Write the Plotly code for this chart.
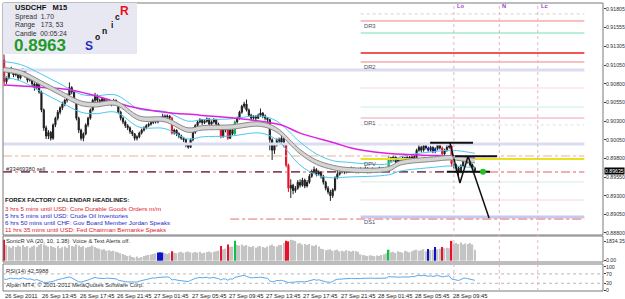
import plotly.graph_objects as go

# ---------------- DATA ----------------
bars = list(range(203))
opens = [0.9112,0.9083,0.9088,0.9096,0.9099,0.9092,0.9095,0.9088,0.9093,0.9099,
0.9091,0.9085,0.9088,0.9080,0.9075,0.9080,0.9069,0.9045,0.9021,0.9010,
0.9015,0.9007,0.9025,0.9034,0.9042,0.9048,0.9053,0.9058,0.9065,0.9075,
0.9069,0.9058,0.9034,0.9018,0.9007,0.9013,0.9025,0.9034,0.9045,0.9058,
0.9064,0.9058,0.9056,0.9060,0.9054,0.9058,0.9057,0.9053,0.9058,0.9054,
0.9042,0.9034,0.9029,0.9024,0.9021,0.9016,0.9013,0.9007,0.9009,0.9014,
0.9018,0.9021,0.9024,0.9026,0.9028,0.9030,0.9029,0.9032,0.9033,0.9037,
0.9036,0.9037,0.9034,0.9014,0.9018,0.9013,0.9010,0.9007,0.9005,0.8998,
0.8995,0.9005,0.9015,0.9024,0.9029,0.9032,0.9028,0.9030,0.9033,0.9026,
0.9029,0.9032,0.9026,0.9021,0.9009,0.9021,0.9018,0.9007,0.9018,0.9013,
0.9029,0.9034,0.9042,0.9050,0.9053,0.9045,0.9038,0.9034,0.9036,0.9034,
0.9038,0.9041,0.9037,0.9034,0.9032,0.9005,0.8991,0.8998,0.9005,0.9002,
0.9007,0.8998,0.8971,0.8940,0.8944,0.8937,0.8940,0.8948,0.8944,0.8951,
0.8943,0.8948,0.8956,0.8962,0.8965,0.8959,0.8962,0.8956,0.8948,0.8940,
0.8935,0.8930,0.8938,0.8954,0.8959,0.8962,0.8965,0.8962,0.8966,0.8963,
0.8967,0.8965,0.8962,0.8966,0.8963,0.8965,0.8967,0.8962,0.8965,0.8966,
0.8963,0.8965,0.8967,0.8963,0.8965,0.8966,0.8981,0.8978,0.8982,0.8975,
0.8979,0.8977,0.8981,0.8978,0.8982,0.8979,0.8983,0.8981,0.8991,0.8995,
0.8991,0.8997,0.8994,0.8991,0.8995,0.8989,0.8993,0.8998,0.8994,0.8986,
0.8991,0.8995,0.8997,0.8973,0.8971,0.8967,0.8962,0.8970,0.8978,0.8981,
0.8975,0.8971,0.8967]
highs = [0.9119,0.9090,0.9099,0.9103,0.9101,0.9097,0.9096,0.9096,0.9101,0.9100,
0.9093,0.9090,0.9089,0.9082,0.9083,0.9081,0.9071,0.9047,0.9024,0.9018,
0.9017,0.9027,0.9036,0.9045,0.9050,0.9056,0.9060,0.9067,0.9082,0.9077,
0.9071,0.9059,0.9036,0.9020,0.9015,0.9027,0.9036,0.9047,0.9060,0.9068,
0.9066,0.9060,0.9062,0.9061,0.9060,0.9060,0.9058,0.9060,0.9059,0.9055,
0.9044,0.9036,0.9031,0.9026,0.9023,0.9018,0.9014,0.9011,0.9016,0.9020,
0.9023,0.9026,0.9028,0.9030,0.9032,0.9032,0.9034,0.9036,0.9040,0.9039,
0.9039,0.9038,0.9036,0.9020,0.9019,0.9015,0.9012,0.9009,0.9006,0.9000,
0.9007,0.9017,0.9026,0.9031,0.9034,0.9033,0.9032,0.9035,0.9034,0.9031,
0.9034,0.9033,0.9028,0.9023,0.9023,0.9023,0.9020,0.9020,0.9021,0.9031,
0.9036,0.9044,0.9052,0.9056,0.9059,0.9047,0.9040,0.9038,0.9038,0.9040,
0.9047,0.9042,0.9039,0.9035,0.9033,0.9007,0.9000,0.9007,0.9008,0.9013,
0.9009,0.8999,0.8973,0.8952,0.8946,0.8943,0.8951,0.8952,0.8954,0.8953,
0.8951,0.8959,0.8965,0.8969,0.8967,0.8964,0.8963,0.8958,0.8950,0.8943,
0.8938,0.8940,0.8956,0.8965,0.8964,0.8967,0.8966,0.8968,0.8967,0.8969,
0.8968,0.8966,0.8967,0.8968,0.8966,0.8969,0.8968,0.8966,0.8968,0.8967,
0.8966,0.8969,0.8968,0.8966,0.8967,0.8983,0.8982,0.8984,0.8983,0.8981,
0.8981,0.8983,0.8982,0.8984,0.8983,0.8985,0.8984,0.8993,0.8998,0.8997,
0.8999,0.8999,0.8996,0.8997,0.8996,0.8995,0.9002,0.9000,0.8996,0.8993,
0.8998,0.9001,0.8999,0.8976,0.8973,0.8969,0.8972,0.8980,0.8984,0.8982,
0.8977,0.8973,0.8969]
lows = [0.9077,0.9080,0.9086,0.9094,0.9089,0.9090,0.9085,0.9086,0.9091,0.9088,
0.9082,0.9083,0.9077,0.9071,0.9073,0.9067,0.9042,0.9017,0.9006,0.9006,
0.9004,0.9005,0.9022,0.9031,0.9039,0.9045,0.9050,0.9055,0.9063,0.9066,
0.9055,0.9031,0.9014,0.9004,0.9003,0.9011,0.9022,0.9032,0.9043,0.9055,
0.9055,0.9052,0.9054,0.9051,0.9052,0.9054,0.9050,0.9051,0.9051,0.9040,
0.9031,0.9026,0.9021,0.9018,0.9013,0.9010,0.9004,0.9004,0.9007,0.9012,
0.9016,0.9019,0.9022,0.9024,0.9026,0.9027,0.9027,0.9030,0.9031,0.9033,
0.9033,0.9031,0.9012,0.9012,0.9010,0.9007,0.9005,0.9002,0.8995,0.8993,
0.8994,0.9003,0.9013,0.9022,0.9027,0.9025,0.9026,0.9028,0.9024,0.9024,
0.9027,0.9024,0.9019,0.9007,0.9008,0.9015,0.9005,0.9006,0.9011,0.9011,
0.9027,0.9032,0.9040,0.9047,0.9043,0.9036,0.9031,0.9032,0.9031,0.9033,
0.9036,0.9034,0.9031,0.9029,0.8991,0.8978,0.8986,0.8996,0.8999,0.9000,
0.8995,0.8968,0.8935,0.8927,0.8932,0.8934,0.8938,0.8941,0.8942,0.8940,
0.8941,0.8946,0.8954,0.8960,0.8956,0.8957,0.8953,0.8945,0.8937,0.8932,
0.8923,0.8927,0.8936,0.8952,0.8957,0.8960,0.8959,0.8960,0.8961,0.8962,
0.8962,0.8960,0.8960,0.8961,0.8961,0.8963,0.8960,0.8960,0.8963,0.8961,
0.8961,0.8963,0.8961,0.8961,0.8962,0.8961,0.8975,0.8976,0.8973,0.8973,
0.8974,0.8975,0.8976,0.8976,0.8977,0.8977,0.8979,0.8980,0.8989,0.8988,
0.8989,0.8992,0.8989,0.8989,0.8987,0.8987,0.8991,0.8992,0.8984,0.8984,
0.8989,0.8993,0.8969,0.8966,0.8963,0.8955,0.8960,0.8968,0.8976,0.8973,
0.8969,0.8965,0.8962]
closes = [0.9083,0.9088,0.9096,0.9099,0.9092,0.9095,0.9088,0.9093,0.9099,0.9091,
0.9085,0.9088,0.9080,0.9075,0.9080,0.9069,0.9045,0.9021,0.9010,0.9015,
0.9007,0.9025,0.9034,0.9042,0.9048,0.9053,0.9058,0.9065,0.9075,0.9069,
0.9058,0.9034,0.9018,0.9007,0.9013,0.9025,0.9034,0.9045,0.9058,0.9064,
0.9058,0.9056,0.9060,0.9054,0.9058,0.9057,0.9053,0.9058,0.9054,0.9042,
0.9034,0.9029,0.9024,0.9021,0.9016,0.9013,0.9007,0.9009,0.9014,0.9018,
0.9021,0.9024,0.9026,0.9028,0.9030,0.9029,0.9032,0.9033,0.9037,0.9036,
0.9037,0.9034,0.9014,0.9018,0.9013,0.9010,0.9007,0.9005,0.8998,0.8995,
0.9005,0.9015,0.9024,0.9029,0.9032,0.9028,0.9030,0.9033,0.9026,0.9029,
0.9032,0.9026,0.9021,0.9009,0.9021,0.9018,0.9007,0.9018,0.9013,0.9029,
0.9034,0.9042,0.9050,0.9053,0.9045,0.9038,0.9034,0.9036,0.9034,0.9038,
0.9041,0.9037,0.9034,0.9032,0.9005,0.8991,0.8998,0.9005,0.9002,0.9007,
0.8998,0.8971,0.8940,0.8944,0.8937,0.8940,0.8948,0.8944,0.8951,0.8943,
0.8948,0.8956,0.8962,0.8965,0.8959,0.8962,0.8956,0.8948,0.8940,0.8935,
0.8930,0.8938,0.8954,0.8959,0.8962,0.8965,0.8962,0.8966,0.8963,0.8967,
0.8965,0.8962,0.8966,0.8963,0.8965,0.8967,0.8962,0.8965,0.8966,0.8963,
0.8965,0.8967,0.8963,0.8965,0.8966,0.8981,0.8978,0.8982,0.8975,0.8979,
0.8977,0.8981,0.8978,0.8982,0.8979,0.8983,0.8981,0.8991,0.8995,0.8991,
0.8997,0.8994,0.8991,0.8995,0.8989,0.8993,0.8998,0.8994,0.8986,0.8991,
0.8995,0.8997,0.8973,0.8971,0.8967,0.8962,0.8970,0.8978,0.8981,0.8975,
0.8971,0.8967,0.89635]
volumes = [2000,1500,1350,1250,1400,1300,1450,1350,1500,1300,
1400,1250,1350,1450,1300,1500,1600,1550,1450,1350,
1400,1300,1250,1400,1200,1300,1350,1250,1500,1400,
1350,1550,1450,1300,1400,1250,1300,1350,1450,1300,
1200,1150,1050,1100,950,1000,900,950,850,800,
700,650,550,450,500,350,300,400,250,350,
450,500,550,600,650,700,780,800,780,700,
650,720,900,780,720,800,850,760,820,870,
800,750,820,780,850,700,760,820,870,800,
850,900,950,1400,1100,1150,1560,1300,1350,1900,
1500,1450,1560,1400,1500,1350,1300,1400,1250,1350,
1400,1300,1250,1350,1450,1550,1400,1350,1500,1500,
1700,1900,1850,2000,1950,1900,1650,1700,1550,1600,
1500,1600,1450,1400,1500,1350,1150,1100,1000,1050,
1100,950,1000,1050,900,950,880,1000,920,870,
950,900,850,600,550,500,450,520,480,430,
500,450,550,610,700,1050,800,850,750,900,
820,780,950,880,800,900,1000,1050,950,1000,
1100,900,1130,1000,1050,1300,1100,1150,1300,1200,
1250,1200,1900,1650,1700,1600,1750,1550,1650,1600,
1700,1550,1050]
rsi = [48,46,50,52,49,51,48,51,53,50,
47,49,45,43,46,42,37,34,33,35,
34,38,42,46,48,50,52,54,57,53,
48,40,36,35,37,40,44,48,53,55,
52,51,53,50,52,51,49,51,49,43,
40,38,37,36,35,34,33,35,39,42,
45,47,49,51,53,52,55,56,58,57,
57,55,44,46,43,42,41,40,38,37,
42,47,51,53,55,53,54,56,52,53,
55,52,50,44,49,48,43,49,47,55,
57,60,63,64,59,55,53,54,53,55,
56,54,52,51,40,36,38,42,41,43,
40,36,33,34,33,35,37,36,38,36,
38,41,44,46,43,45,42,38,36,35,
34,37,44,47,48,50,49,51,50,51,
50,49,51,50,51,52,50,51,52,51,
51,52,51,52,52,58,57,58,55,57,
56,57,56,58,57,59,58,62,64,62,
64,62,60,62,59,61,63,61,57,59,
61,62,48,47,45,42,46,51,52,49,
46,44,42.5988]
red_bars = [0, 72, 93, 96, 121, 122, 188, 192]
blue_bars = [66, 67, 68, 182, 185]
green_bars = [99, 165]

ma_bars = [0,7,16,24,33,39,48,58,69,79,85,97,110,117,127,134,141,147,165,170,184,192,200,202]
band_upper = [0.9102,0.9098,0.9084,0.9071,0.9057,0.9055,0.9057,0.9037,0.9035,0.9021,0.9024,0.9025,0.9029,0.9021,0.8992,0.8978,0.8971,0.8968,0.8969,0.8977,0.8982,0.8984,0.8981,0.8980]
band_lower = [0.9096,0.9092,0.9078,0.9065,0.9051,0.9049,0.9051,0.9031,0.9029,0.9015,0.9018,0.9019,0.9023,0.9015,0.8986,0.8972,0.8965,0.8962,0.8963,0.8971,0.8976,0.8978,0.8975,0.8974]
cyan_upper = [0.9110,0.9106,0.9093,0.9080,0.9066,0.9064,0.9065,0.9046,0.9043,0.9030,0.9032,0.9033,0.9037,0.9030,0.9002,0.8986,0.8977,0.8975,0.8973,0.8982,0.8989,0.8991,0.8988,0.8987]
cyan_lower = [0.9089,0.9084,0.9069,0.9056,0.9042,0.9040,0.9042,0.9022,0.9020,0.9006,0.9009,0.9010,0.9014,0.9005,0.8971,0.8958,0.8954,0.8955,0.8958,0.8963,0.8968,0.8970,0.8968,0.8967]
slow_bars = [0,13,20,28,41,55,69,84,106,119,127,142,149,163,178,192,202]
slow_ma = [0.90785,0.9076,0.90745,0.9072,0.90624,0.9049,0.9042,0.9038,0.90315,0.90248,0.9014,0.90007,0.8994,0.89873,0.89846,0.89833,0.89819]

level_prices = [0.91738,0.91644,0.91483,0.91215,0.91094,0.90987,0.90745,0.90490,0.90342,0.90249,
                0.89994,0.89833,0.89792,0.89618,0.89484,0.89242,0.89014,0.88987]
level_start = [153,153,153,153,153,-0.5,153,153,153,153,-0.5,-0.5,153,-0.5,153,153,153,97]
level_end = 249
level_names = {1: "DR3", 4: "DR2", 8: "DR1", 12: "DPV", 16: "DS1"}
order_price = 0.8962
order_span = [-0.5, 208.5]

hl_start = [182.8, 193.5, 190]
hl_end = [201.2, 211.5, 208.5]
hl_price = [0.9001, 0.8983, 0.8962]
zig_bars = [191.3, 195.6, 199.1, 208.1]
zig_prices = [0.9001, 0.8947, 0.8983, 0.8900]
target_bar = [205.5]
target_price = [0.8962]

session_bars = [193, 212.5, 229]
session_names = ["Lo", "N", "Lc"]

time_bars = [0,16,32,48,64,80,96,112,128,144,160,176,192]
time_labels = ["26 Sep 2011","26 Sep 13:45","26 Sep 17:45","26 Sep 21:45","27 Sep 01:45",
               "27 Sep 05:45","27 Sep 09:45","27 Sep 13:45","27 Sep 17:45","27 Sep 21:45",
               "28 Sep 01:45","28 Sep 05:45","28 Sep 09:45"]
price_ticks = [0.91805,0.91555,0.91305,0.91050,0.90800,0.90550,0.90300,0.90050,0.89800,0.89550,0.89300,0.89050,0.88800]
current_price = 0.89635
news = [("3 hrs 5 mins until USD: Core Durable Goods Orders m/m", "#E0202A"),
        ("5 hrs 5 mins until USD: Crude Oil Inventories", "#2828C8"),
        ("6 hrs 50 mins until CHF: Gov Board Member Jordan Speaks", "#2828C8"),
        ("11 hrs 35 mins until USD: Fed Chairman Bernanke Speaks", "#E0202A")]

# ---------------- LAYOUT HELPERS ----------------
FONT = "Liberation Sans"
W, H = 625, 299
ML, MR, MT, MB = 3, 22, 3, 8
PW, PH = W - ML - MR, H - MT - MB
def pxx(px): return (px - ML) / PW
def pxy(py): return (H - MB - py) / PH

fig = go.Figure()

level_styles = [("#D0D0D0",1,"dot"),("#F08080",1,"solid"),("#B8F0D8",2,"solid"),("#F05858",2,"solid"),
                ("#F08080",1,"solid"),("#DCDCF2",3,"solid"),("#F8D8D8",1,"solid"),("#C8F0E0",1,"solid"),
                ("#F0A0B0",1,"solid"),("#E0E0E0",1,"dot"),("#DCDCF2",3,"solid"),("#F0B090",1,"dashdot"),
                ("#E8E020",2,"solid"),("#E06060",1,"dashdot"),("#D0F0E0",1,"solid"),("#F8D8D8",1,"solid"),
                ("#C8C8F0",3,"solid"),("#E07070",1,"dashdot")]
for i, p in enumerate(level_prices):
    c, w, d = level_styles[i]
    fig.add_trace(go.Scatter(x=[level_start[i], level_end], y=[p, p], mode="lines",
                             line=dict(color=c, width=w, dash=d), hoverinfo="skip", showlegend=False))
fig.add_trace(go.Scatter(x=order_span, y=[order_price, order_price], mode="lines",
                         line=dict(color="#3A1040", width=1, dash="dash"), hoverinfo="skip", showlegend=False))

# moving averages
fig.add_trace(go.Scatter(x=ma_bars, y=cyan_upper, mode="lines", line=dict(color="#48C8F0", width=1, shape="spline"),
                         hoverinfo="skip", showlegend=False))
fig.add_trace(go.Scatter(x=ma_bars, y=cyan_lower, mode="lines", line=dict(color="#48C8F0", width=1, shape="spline"),
                         hoverinfo="skip", showlegend=False))
fig.add_trace(go.Scatter(x=slow_bars, y=slow_ma, mode="lines", line=dict(color="#E020E0", width=1.5, shape="spline"),
                         hoverinfo="skip", showlegend=False))
fig.add_trace(go.Scatter(x=ma_bars, y=band_upper, mode="lines", line=dict(color="#8A8A8A", width=1, shape="spline"),
                         hoverinfo="skip", showlegend=False))
fig.add_trace(go.Scatter(x=ma_bars, y=band_lower, mode="lines", line=dict(color="#8A8A8A", width=1, shape="spline"),
                         fill="tonexty", fillcolor="#D4D4D4", hoverinfo="skip", showlegend=False))

# candles
colored = set(red_bars) | set(blue_bars) | set(green_bars)
groups = [([b for b in bars if b not in colored], "#1E1E1E"), (red_bars, "#E8102A"),
          (blue_bars, "#1010C8"), (green_bars, "#10B040")]
for idx, col in groups:
    fig.add_trace(go.Candlestick(
        x=idx, open=[opens[i] for i in idx], high=[highs[i] for i in idx],
        low=[lows[i] for i in idx], close=[closes[i] for i in idx],
        increasing=dict(line=dict(color=col, width=1), fillcolor=col),
        decreasing=dict(line=dict(color=col, width=1), fillcolor=col),
        whiskerwidth=0, hoverinfo="skip", showlegend=False))

# pattern lines
for i in range(len(hl_price)):
    fig.add_trace(go.Scatter(x=[hl_start[i], hl_end[i]], y=[hl_price[i], hl_price[i]], mode="lines",
                             line=dict(color="#101010", width=2), hoverinfo="skip", showlegend=False))
fig.add_trace(go.Scatter(x=zig_bars, y=zig_prices, mode="lines", line=dict(color="#101010", width=1.5),
                         hoverinfo="skip", showlegend=False))
fig.add_trace(go.Scatter(x=target_bar, y=target_price, mode="markers",
                         marker=dict(color="#20C020", size=6), hoverinfo="skip", showlegend=False))

# volume
vcol = []
for b in bars:
    if b in red_bars: vcol.append("#E8102A")
    elif b in blue_bars: vcol.append("#1010C8")
    elif b in green_bars: vcol.append("#10C040")
    else: vcol.append("#C4C4C4")
fig.add_trace(go.Bar(x=bars, y=volumes, marker=dict(color=vcol, line=dict(width=0)), width=0.62,
                     yaxis="y2", hoverinfo="skip", showlegend=False))

# RSI
fig.add_trace(go.Scatter(x=bars, y=rsi, mode="lines", line=dict(color="#5AA8EC", width=1),
                         yaxis="y3", hoverinfo="skip", showlegend=False))

tickfont = dict(family=FONT, size=5.2, color="#303030")
axis_common = dict(side="right", anchor="x", tickfont=tickfont, ticks="outside", ticklen=2,
                   tickcolor="#404040", showgrid=False, zeroline=False, ticklabelstandoff=-1)
fig.update_layout(
    width=W, height=H, margin=dict(l=ML, r=MR, t=MT, b=MB, autoexpand=False),
    paper_bgcolor="white", plot_bgcolor="white", hovermode=False, showlegend=False,
    xaxis=dict(range=[-0.5, 257], showticklabels=False, showgrid=False, zeroline=False,
               anchor="y3", rangeslider=dict(visible=False), showline=False),
    yaxis=dict(domain=[pxy(235), 1], range=[0.88773, 0.91885],
               tickvals=price_ticks, ticktext=["%.5f" % v for v in price_ticks], **axis_common),
    yaxis2=dict(domain=[pxy(262), pxy(237)], range=[-130, 2272],
                tickvals=[1834.35, 0], ticktext=["1834.35", "0.00"], **axis_common),
    yaxis3=dict(domain=[0, pxy(265)], range=[-3, 108],
                tickvals=[100, 70, 30, 0], ticktext=["100", "70", "30", "0"], **axis_common),
)

shapes = []
for y0, y1 in [(pxy(235), 1), (pxy(262), pxy(236)), (0, pxy(264))]:
    shapes.append(dict(type="rect", xref="paper", yref="paper", x0=0, x1=1, y0=y0, y1=y1,
                       line=dict(color="#7A7A7A", width=1), layer="above"))
for lv in [70, 30]:
    shapes.append(dict(type="line", xref="paper", yref="y3", x0=0, x1=1, y0=lv, y1=lv,
                       line=dict(color="#B8B8B8", width=1, dash="dot")))
for b in session_bars:
    shapes.append(dict(type="line", xref="x", yref="paper", x0=b, x1=b, y0=0, y1=1,
                       line=dict(color="#E6B4C4", width=1, dash="dot")))
shapes.append(dict(type="rect", xref="paper", yref="paper", x0=0.0, x1=pxx(137), y0=pxy(54), y1=1,
                   fillcolor="#E8E8F2", line=dict(width=0), layer="above"))
fig.update_layout(shapes=shapes)

ann = []
def txt(t, px, py, size, color="#202020", bold=False, anchor="left"):
    if bold:
        t = "<b>" + t + "</b>"
    ann.append(dict(text=t, x=pxx(px), y=pxy(py), xref="paper", yref="paper", xanchor=anchor,
                    yanchor="middle", showarrow=False, font=dict(family=FONT, size=size, color=color)))

txt("USDCHF&nbsp;&nbsp;&nbsp;M15", 13, 7.5, 7.5, "#101010", True)
txt("Spread&nbsp;&nbsp;1.70", 13, 16.5, 6.8, "#303030")
txt("Range&nbsp;&nbsp;&nbsp;173, 53", 13, 25, 6.8, "#303030")
txt("Candle&nbsp;&nbsp;00:05:24", 13, 33.5, 6.8, "#303030")
txt("0.8963", 12, 45, 17, "#1E9A2A", True)
for ch, x, y, s, c in [("S", 89, 46, 12, "#2030C0"), ("o", 97, 37, 8.5, "#101010"), ("n", 104, 31, 8.5, "#101010"),
                       ("i", 112, 25, 8.5, "#101010"), ("c", 117, 17.5, 8.5, "#101010"), ("R", 124, 11, 12, "#E81020")]:
    txt(ch, x, y, s, c, True, "center")

txt("FOREX FACTORY CALENDAR HEADLINES:", 3, 200, 6, "#151515", True)
for k, (t, c) in enumerate(news):
    txt(t, 3, 208.3 + k * 7.1, 6.2, c)
txt("#33469380 sell", 4, 168.5, 5.8, "#303030")
txt("SonicR VA (20, 10, 1.38)&nbsp;&nbsp;Voice &amp; Text Alerts off.", 4, 241, 5.8, "#303030")
txt("RSI(14) 42.5988", 4, 271, 5.8, "#303030")
txt("Alpari MT4, © 2001-2011 MetaQuotes Software Corp.", 4, 285, 5.8, "#303030")

for i, name in level_names.items():
    ann.append(dict(text=name, x=level_start[i], y=level_prices[i], xref="x", yref="y", xanchor="left",
                    yanchor="top", xshift=1, showarrow=False, font=dict(family=FONT, size=5.8, color="#505068")))
for b, name in zip(session_bars, session_names):
    ann.append(dict(text="<b>" + name + "</b>", x=b, y=pxy(6), xref="x", yref="paper", xanchor="left",
                    yanchor="middle", xshift=1, showarrow=False, font=dict(family=FONT, size=5.8, color="#9A40D0")))
for b, lab in zip(time_bars, time_labels):
    ann.append(dict(text=lab, x=b, y=pxy(295.5), xref="x", yref="paper", xanchor="left", xshift=-1,
                    yanchor="middle", showarrow=False, font=dict(family=FONT, size=5.8, color="#202020")))
ann.append(dict(text="0.89635", x=1, y=current_price, xref="paper", yref="y", xanchor="left", yanchor="middle",
                xshift=1, showarrow=False, bgcolor="#000000", borderpad=0,
                font=dict(family=FONT, size=5.2, color="#FFFFFF")))
fig.update_layout(annotations=ann)

fig.write_html("out.html")
